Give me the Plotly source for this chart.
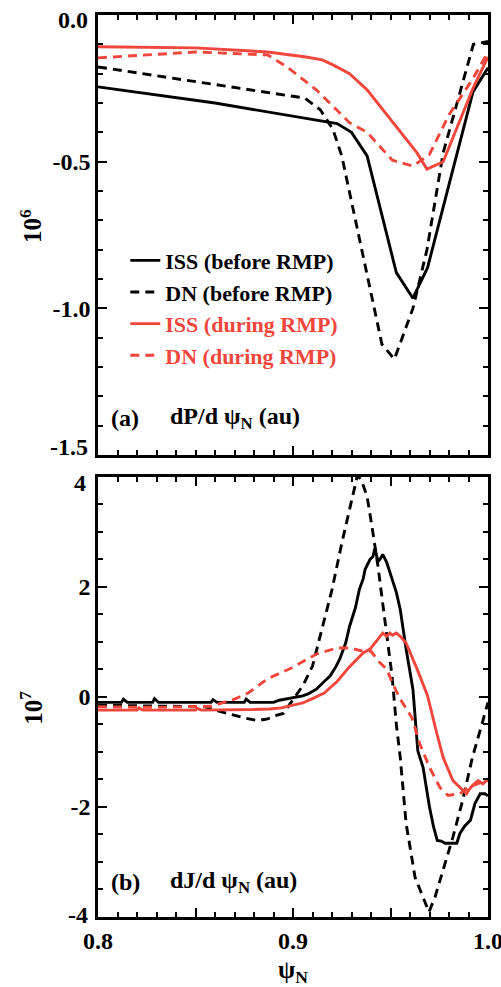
import plotly.graph_objects as go

# ---------------- data: panel (a) dP/dpsi_N (units of 1e6) ----------------
xa_iss_before = [0.800, 0.860, 0.9226, 0.930, 0.938, 0.953, 0.9615, 0.969, 0.9923, 1.0]
ya_iss_before = [-0.245, -0.30, -0.37, -0.40, -0.48, -0.878, -0.965, -0.861, -0.262, -0.18]

xa_dn_before = [0.800, 0.906, 0.914, 0.9205, 0.925, 0.9456, 0.952, 0.9615, 0.9687, 0.977, 0.9925, 1.0]
ya_dn_before = [-0.177, -0.283, -0.323, -0.39, -0.48, -1.122, -1.173, -1.0, -0.80, -0.47, -0.10, -0.09]

xa_iss_during = [0.800, 0.850, 0.887, 0.9067, 0.915, 0.9205, 0.929, 0.938, 0.9636, 0.9687, 0.977, 0.9923, 1.0]
ya_iss_during = [-0.108, -0.112, -0.126, -0.143, -0.153, -0.17, -0.20, -0.255, -0.47, -0.525, -0.50, -0.25, -0.143]

xa_dn_during = [0.800, 0.850, 0.887, 0.897, 0.912, 0.929, 0.938, 0.951, 0.9615, 0.970, 0.980, 0.992, 1.0]
ya_dn_during = [-0.146, -0.126, -0.136, -0.177, -0.255, -0.367, -0.40, -0.495, -0.515, -0.475, -0.34, -0.22, -0.126]

# ---------------- data: panel (b) dJ/dpsi_N (units of 1e7) ----------------
xb_iss_before = [0.800, 0.812, 0.813, 0.815, 0.828, 0.829, 0.831, 0.858, 0.859, 0.861, 0.875, 0.876,
                 0.878, 0.890, 0.893, 0.897, 0.900, 0.905, 0.908, 0.912, 0.916, 0.919, 0.922, 0.924,
                 0.927, 0.929, 0.932, 0.934, 0.936, 0.937, 0.9395, 0.941, 0.942, 0.9436, 0.945, 0.946,
                 0.948, 0.951, 0.953, 0.955, 0.958, 0.9615, 0.964, 0.9667, 0.970, 0.972, 0.974, 0.976,
                 0.978, 0.981, 0.984, 0.9856, 0.988, 0.991, 0.9933, 0.996, 0.9985, 1.0]
yb_iss_before = [-0.10, -0.10, -0.04, -0.10, -0.10, -0.03, -0.10, -0.10, -0.05, -0.10, -0.10, -0.04,
                 -0.10, -0.10, -0.06, -0.03, -0.02, 0.02, 0.06, 0.14, 0.28, 0.38, 0.55, 0.69,
                 0.98, 1.28, 1.62, 1.95, 2.15, 2.32, 2.50, 2.55, 2.70, 2.46, 2.52, 2.59,
                 2.45, 2.14, 1.90, 1.59, 0.87, 0.14, -0.98, -1.28, -2.0, -2.35, -2.61, -2.62,
                 -2.66, -2.66, -2.66, -2.48, -2.35, -2.24, -1.94, -1.76, -1.76, -1.80]

xb_dn_before = [0.800, 0.830, 0.855, 0.862, 0.870, 0.876, 0.882, 0.887, 0.891, 0.895, 0.900, 0.905,
                0.910, 0.915, 0.920, 0.925, 0.929, 0.933, 0.935, 0.938, 0.9405, 0.9436, 0.946, 0.9487,
                0.9508, 0.953, 0.955, 0.958, 0.9626, 0.9667, 0.9697, 0.9728, 0.977, 0.982, 0.987, 0.992,
                0.9974, 1.0]
yb_dn_before = [-0.15, -0.16, -0.18, -0.26, -0.34, -0.39, -0.43, -0.40, -0.34, -0.30, -0.05, 0.20,
                0.56, 1.23, 1.95, 2.79, 3.40, 4.02, 3.95, 3.64, 3.10, 2.37, 1.70, 0.98,
                0.38, -0.50, -1.10, -2.30, -3.28, -3.64, -3.91, -3.64, -3.15, -2.55, -1.88, -1.10,
                -0.43, -0.10]

xb_iss_during = [0.800, 0.820, 0.821, 0.823, 0.850, 0.851, 0.853, 0.870, 0.880, 0.888, 0.894, 0.900,
                 0.905, 0.910, 0.916, 0.9226, 0.929, 0.936, 0.9395, 0.9436, 0.946, 0.948, 0.9497, 0.951,
                 0.953, 0.955, 0.958, 0.9636, 0.969, 0.9738, 0.977, 0.982, 0.987, 0.989, 0.990, 0.992,
                 0.995, 0.9974, 1.0]
yb_iss_during = [-0.24, -0.24, -0.20, -0.24, -0.24, -0.21, -0.24, -0.24, -0.23, -0.22, -0.20, -0.15,
                 -0.11, -0.03, 0.07, 0.28, 0.55, 0.80, 0.87, 1.05, 1.16, 1.10, 1.16, 1.12,
                 1.16, 1.10, 0.98, 0.51, 0.02, -0.67, -1.10, -1.52, -1.70, -1.76, -1.70, -1.61,
                 -1.52, -1.58, -1.49]

xb_dn_during = [0.800, 0.830, 0.858, 0.865, 0.870, 0.877, 0.887, 0.8995, 0.912, 0.9226, 0.929, 0.936,
                0.940, 0.9446, 0.948, 0.951, 0.955, 0.961, 0.965, 0.970, 0.9754, 0.9795, 0.9856, 0.9897,
                0.9944, 1.0]
yb_dn_during = [-0.18, -0.19, -0.17, -0.10, -0.04, 0.07, 0.33, 0.53, 0.78, 0.89, 0.89, 0.83,
                0.83, 0.62, 0.51, 0.25, -0.04, -0.38, -0.85, -1.28, -1.65, -1.79, -1.76, -1.65,
                -1.58, -1.52]

series_names = ["ISS (before RMP)", "DN (before RMP)", "ISS (during RMP)", "DN (during RMP)"]
x_ticks = [0.8, 0.85, 0.9, 0.95, 1.0]
x_ticktext = ["0.8", "", "0.9", "", "1.0"]
ya_ticks = [0.0, -0.5, -1.0, -1.5]
ya_ticktext = ["0.0", "-0.5", "-1.0", "-1.5"]
yb_ticks = [4, 2, 0, -2, -4]
yb_ticktext = ["4", "2", "0", "-2", "-4"]

# ---------------- styling ----------------
BLACK = "#000000"
RED = "#F0463C"
LW = 2.9
DASH = "9px,6px"
FONT = "Liberation Serif"
TICKSIZE = 24

fig = go.Figure()

def add(x, y, color, dash, name, xa, ya, show):
    fig.add_trace(go.Scatter(
        x=x, y=y, mode="lines", xaxis=xa, yaxis=ya,
        line=dict(color=color, width=LW, dash=dash),
        name=name, showlegend=show, hoverinfo="skip"))

red_name = lambda s: "<span style='color:%s'>%s</span>" % (RED, s)

add(xa_iss_before, ya_iss_before, BLACK, "solid", series_names[0], "x", "y", True)
add(xa_dn_before, ya_dn_before, BLACK, DASH, series_names[1], "x", "y", True)
add(xa_iss_during, ya_iss_during, RED, "solid", red_name(series_names[2]), "x", "y", True)
add(xa_dn_during, ya_dn_during, RED, DASH, red_name(series_names[3]), "x", "y", True)

add(xb_iss_before, yb_iss_before, BLACK, "solid", series_names[0], "x2", "y2", False)
add(xb_dn_before, yb_dn_before, BLACK, DASH, series_names[1], "x2", "y2", False)
add(xb_iss_during, yb_iss_during, RED, "solid", series_names[2], "x2", "y2", False)
add(xb_dn_during, yb_dn_during, RED, DASH, series_names[3], "x2", "y2", False)

tickfont = dict(family=FONT, size=TICKSIZE, color="black", weight="bold")

ann_font = dict(family=FONT, size=24, color="black", weight="bold")
lab_font = dict(family=FONT, size=25, color="black", weight="bold")
annotations = [
    dict(text="10<sup>6</sup>", xref="paper", yref="paper", x=-0.172, y=0.766,
         textangle=-90, showarrow=False, font=lab_font, xanchor="center", yanchor="middle"),
    dict(text="10<sup>7</sup>", xref="paper", yref="paper", x=-0.172, y=0.232,
         textangle=-90, showarrow=False, font=lab_font, xanchor="center", yanchor="middle"),
    dict(text="(a)", xref="paper", yref="paper", x=0.027, y=0.553,
         showarrow=False, font=ann_font, xanchor="left", yanchor="middle"),
    dict(text="dP/d ψ<sub>N</sub> (au)", xref="paper", yref="paper", x=0.18, y=0.553,
         showarrow=False, font=ann_font, xanchor="left", yanchor="middle"),
    dict(text="(b)", xref="paper", yref="paper", x=0.027, y=0.039,
         showarrow=False, font=ann_font, xanchor="left", yanchor="middle"),
    dict(text="dJ/d ψ<sub>N</sub> (au)", xref="paper", yref="paper", x=0.18, y=0.039,
         showarrow=False, font=ann_font, xanchor="left", yanchor="middle"),
    dict(text="ψ<sub>N</sub>", xref="paper", yref="paper", x=0.5, y=-0.06,
         showarrow=False, font=lab_font, xanchor="center", yanchor="middle"),
    # end tick labels pulled inside the frame (as in the original)
    dict(text=ya_ticktext[0], xref="paper", yref="y", x=0, y=ya_ticks[0], xanchor="right",
         yanchor="middle", xshift=-8, yshift=-5, showarrow=False, font=tickfont),
    dict(text=ya_ticktext[-1], xref="paper", yref="y", x=0, y=ya_ticks[-1], xanchor="right",
         yanchor="middle", xshift=-8, yshift=8, showarrow=False, font=tickfont),
    dict(text=yb_ticktext[0], xref="paper", yref="y2", x=0, y=yb_ticks[0], xanchor="right",
         yanchor="middle", xshift=-10, yshift=-6, showarrow=False, font=tickfont),
    dict(text=yb_ticktext[-1], xref="paper", yref="y2", x=0, y=yb_ticks[-1], xanchor="right",
         yanchor="middle", xshift=-8, yshift=2, showarrow=False, font=tickfont),
]

common = dict(showline=True, linewidth=2.6, linecolor="black", showgrid=False,
              zeroline=False, automargin=False, tickcolor="black", layer="above traces",
              ticks="inside", ticklen=9, tickwidth=2, mirror="allticks",
              ticklabeloverflow="allow", tickfont=tickfont)

def blank_ends(text):
    return [""] + list(text[1:-1]) + [""]

fig.update_layout(
    width=501, height=987,
    margin=dict(l=98, r=13, t=15, b=70, pad=0),
    paper_bgcolor="white", plot_bgcolor="rgba(0,0,0,0)",
    xaxis=dict(range=[0.8, 1.0], domain=[0, 1], anchor="y",
               tickvals=x_ticks, ticktext=x_ticktext, showticklabels=False,
               minor=dict(dtick=0.01, tick0=0.8, ticks="inside", ticklen=5), **common),
    yaxis=dict(range=[-1.5, 0.0], domain=[0.512, 1.0], anchor="x",
               tickvals=ya_ticks, ticktext=blank_ends(ya_ticktext),
               minor=dict(dtick=0.1, tick0=0, ticks="inside", ticklen=5), **common),
    xaxis2=dict(range=[0.8, 1.0], domain=[0, 1], anchor="y2",
                tickvals=x_ticks, ticktext=x_ticktext,
                minor=dict(dtick=0.01, tick0=0.8, ticks="inside", ticklen=5), **common),
    yaxis2=dict(range=[-4, 4], domain=[0.0, 0.488], anchor="x2",
                tickvals=yb_ticks, ticktext=blank_ends(yb_ticktext),
                minor=dict(dtick=0.5, tick0=0, ticks="inside", ticklen=5), **common),
    legend=dict(x=0.07, y=0.751, xanchor="left", yanchor="top",
                bgcolor="rgba(0,0,0,0)", borderwidth=0,
                font=dict(family=FONT, size=22, color="black", weight="bold"),
                tracegroupgap=0, itemwidth=30),
    annotations=annotations,
    showlegend=True,
)

fig.write_html(
    "out.html", config={"displayModeBar": False},
    post_script=("document.documentElement.style.overflow='hidden';"
                 "document.body.style.overflow='hidden';"
                 "document.body.style.margin='0';"))
